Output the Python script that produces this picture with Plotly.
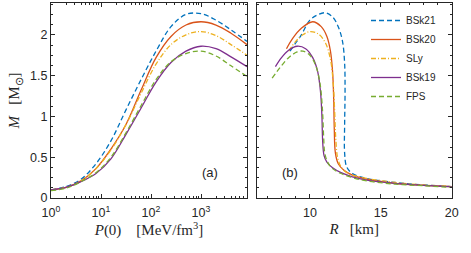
import plotly.graph_objects as go

# ---------------- data ----------------
names = ["BSk21", "BSk20", "SLy", "BSk19", "FPS"]
colors = ["#0072BD", "#D95319", "#EDB120", "#7E2F8E", "#77AC30"]
dashes = ["5px,3px", "solid", "5px,2px,1px,2px", "solid", "5px,3px"]

# panel (a): central pressure [MeV/fm^3] vs mass [Msun]
P0 = [1.0, 2.0, 3.98, 7.94, 15.8, 31.6, 63.1, 126, 251, 501, 1000, 1995, 3981, 8318]
M_a_BSk21 = [0.10, 0.14, 0.23, 0.42, 0.70, 1.08, 1.45, 1.80, 2.10, 2.25, 2.26, 2.18, 2.06, 1.92]
M_a_BSk20 = [0.10, 0.13, 0.21, 0.36, 0.60, 0.90, 1.32, 1.72, 1.98, 2.12, 2.16, 2.12, 2.02, 1.88]
M_a_SLy = [0.10, 0.13, 0.21, 0.36, 0.59, 0.90, 1.28, 1.64, 1.88, 2.00, 2.04, 1.99, 1.88, 1.75]
M_a_BSk19 = [0.10, 0.13, 0.20, 0.30, 0.48, 0.78, 1.10, 1.42, 1.66, 1.80, 1.86, 1.83, 1.73, 1.61]
M_a_FPS = [0.09, 0.12, 0.20, 0.31, 0.50, 0.80, 1.13, 1.45, 1.67, 1.77, 1.80, 1.74, 1.62, 1.49]

# panel (b): radius [km] vs mass [Msun]
R_BSk21 = [8.6, 9.0, 9.4, 10.0, 10.6, 11.1, 11.6, 12.0, 12.3, 12.45, 12.48, 12.45, 12.45, 12.6, 13.0, 14.0, 16.0, 18.0, 20.0]
M_b_BSk21 = [1.80, 1.90, 2.00, 2.18, 2.25, 2.27, 2.22, 2.10, 1.92, 1.65, 1.30, 0.90, 0.55, 0.38, 0.30, 0.24, 0.19, 0.16, 0.14]
R_BSk20 = [8.35, 8.8, 9.4, 10.2, 10.8, 11.2, 11.45, 11.6, 11.68, 11.72, 11.8, 12.0, 12.4, 13.0, 14.0, 16.0, 18.0, 20.0]
M_b_BSk20 = [1.83, 1.96, 2.08, 2.16, 2.10, 1.98, 1.80, 1.55, 1.20, 0.85, 0.55, 0.42, 0.34, 0.28, 0.23, 0.18, 0.155, 0.14]
R_SLy = [8.5, 9.0, 9.5, 10.0, 10.6, 11.1, 11.45, 11.65, 11.75, 11.82, 11.95, 12.2, 12.6, 13.2, 14.0, 16.0, 18.0, 20.0]
M_b_SLy = [1.80, 1.92, 2.00, 2.04, 2.01, 1.90, 1.70, 1.40, 1.05, 0.75, 0.50, 0.38, 0.31, 0.27, 0.24, 0.19, 0.16, 0.145]
R_BSk19 = [7.57, 8.0, 8.5, 9.1, 9.7, 10.2, 10.55, 10.75, 10.85, 10.9, 11.0, 11.2, 11.6, 12.2, 13.0, 14.0, 16.0, 18.0, 20.0]
M_b_BSk19 = [1.61, 1.72, 1.81, 1.86, 1.83, 1.72, 1.55, 1.30, 1.00, 0.70, 0.52, 0.44, 0.37, 0.31, 0.26, 0.22, 0.18, 0.155, 0.14]
R_FPS = [7.34, 7.9, 8.5, 9.1, 9.5, 10.0, 10.4, 10.7, 10.88, 10.97, 11.05, 11.25, 11.6, 12.2, 13.0, 14.0, 16.0, 18.0, 20.0]
M_b_FPS = [1.47, 1.60, 1.72, 1.79, 1.80, 1.75, 1.63, 1.42, 1.10, 0.75, 0.55, 0.44, 0.36, 0.30, 0.25, 0.21, 0.17, 0.15, 0.13]

M_a = [M_a_BSk21, M_a_BSk20, M_a_SLy, M_a_BSk19, M_a_FPS]
R_b = [R_BSk21, R_BSk20, R_SLy, R_BSk19, R_FPS]
M_b = [M_b_BSk21, M_b_BSk20, M_b_SLy, M_b_BSk19, M_b_FPS]

p_ticks = [1, 10, 100, 1000]
p_ticktext = ["10<sup>0</sup>", "10<sup>1</sup>", "10<sup>2</sup>", "10<sup>3</sup>"]
p_minor = [k * 10 ** e for e in range(0, 4) for k in range(2, 10)]
m_ticks = [0, 0.5, 1, 1.5, 2]
m_ticktext = ["0", "0.5", "1", "1.5", "2"]
r_ticks = [10, 15, 20]

# ---------------- figure ----------------
W, H = 471, 253
fig = go.Figure()
for i, n in enumerate(names):
    fig.add_trace(go.Scatter(x=P0, y=M_a[i], mode="lines", name=n, showlegend=False,
                             line=dict(color=colors[i], width=1.3, dash=dashes[i], shape="spline"),
                             xaxis="x", yaxis="y"))
for i, n in enumerate(names):
    fig.add_trace(go.Scatter(x=R_b[i], y=M_b[i], mode="lines", name=n, showlegend=True,
                             line=dict(color=colors[i], width=1.3, dash=dashes[i], shape="spline"),
                             xaxis="x2", yaxis="y2"))

ax_col = "#262626"
tickfont = dict(family="Liberation Sans, Arial", size=12.5, color=ax_col)
titlefont = dict(family="Liberation Serif, Times New Roman", size=15, color=ax_col)
common = dict(showline=True, linecolor=ax_col, linewidth=1, mirror="ticks", ticks="inside",
              ticklen=4, tickcolor=ax_col, tickwidth=0.8, showgrid=False, zeroline=False,
              tickfont=tickfont, automargin=False)

x0, x1 = 51 / W, 247 / W
x2a, x2b = 256.7 / W, 451.7 / W
yb, yt = (H - 198) / H, (H - 3) / H

fig.update_layout(
    template="simple_white",
    width=W, height=H, margin=dict(l=0, r=0, t=0, b=0, autoexpand=False),
    paper_bgcolor="white", plot_bgcolor="white",
    xaxis=dict(domain=[x0, x1], type="log", range=[0, 3.92], tickvals=p_ticks, ticktext=p_ticktext,
               ticklabelstandoff=3,
               minor=dict(tickvals=p_minor, ticks="inside", ticklen=2, tickcolor=ax_col, showgrid=False),
               title=dict(text="<i>P</i>(0)&nbsp;&nbsp;&nbsp;&nbsp;[MeV/fm<sup>3</sup>]", font=titlefont, standoff=4),
               **common),
    yaxis=dict(domain=[yb, yt], range=[0, 2.39], tickvals=m_ticks, ticktext=m_ticktext,
               minor=dict(dtick=0.125, ticks="inside", ticklen=2, tickcolor=ax_col, showgrid=False),
               title=dict(text="<i>M</i>&nbsp;&nbsp;&nbsp;[M<sub>⊙</sub>]", font=titlefont, standoff=6),
               **common),
    xaxis2=dict(domain=[x2a, x2b], range=[6.25, 20], tickvals=r_ticks, ticklabelstandoff=3,
                minor=dict(dtick=1, ticks="inside", ticklen=2, tickcolor=ax_col, showgrid=False),
                title=dict(text="<i>R</i>&nbsp;&nbsp;&nbsp;[km]", font=titlefont, standoff=4),
                anchor="y2", **common),
    yaxis2=dict(domain=[yb, yt], range=[0, 2.39], tickvals=m_ticks, showticklabels=False,
                minor=dict(dtick=0.125, ticks="inside", ticklen=2, tickcolor=ax_col, showgrid=False),
                anchor="x2", **common),
    legend=dict(x=366 / W, y=(H - 6) / H, xanchor="left", yanchor="top",
                bgcolor="rgba(0,0,0,0)", itemwidth=30, tracegroupgap=0,
                font=dict(family="Liberation Sans, Arial", size=10, color=ax_col)),
    annotations=[
        dict(text="(a)", xref="x domain", yref="y domain", x=0.862, y=0.082, showarrow=False,
             font=dict(family="Liberation Sans, Arial", size=13, color=ax_col)),
        dict(text="(b)", xref="x2 domain", yref="y2 domain", x=0.12, y=0.082, showarrow=False,
             font=dict(family="Liberation Sans, Arial", size=13, color=ax_col)),
    ],
)

fig.write_html("out.html", config={"displayModeBar": False},
               post_script="document.body.style.margin='0';document.body.style.overflow='hidden';")
